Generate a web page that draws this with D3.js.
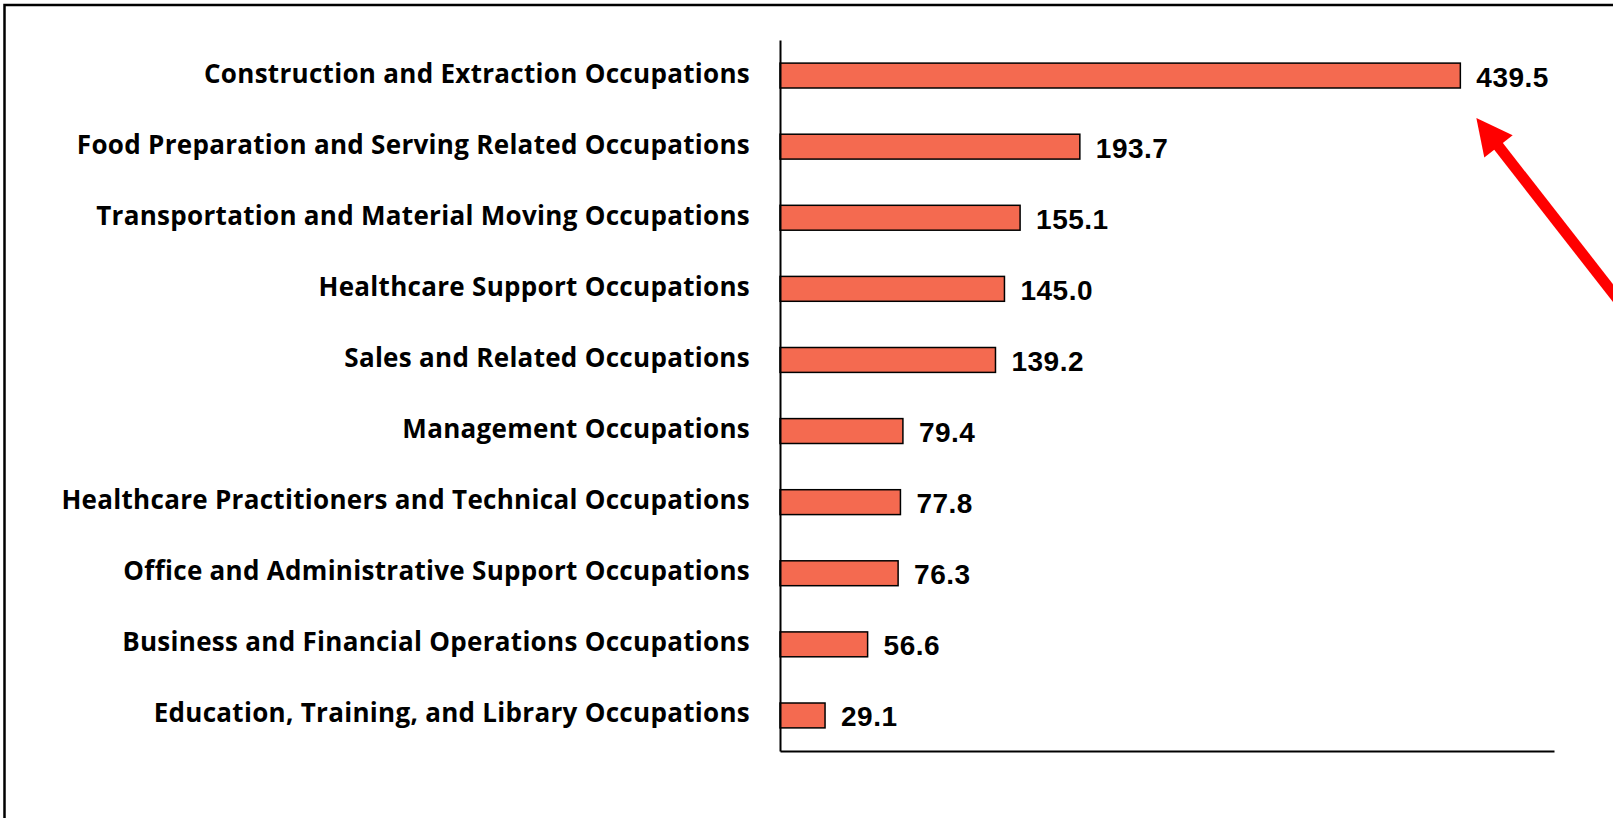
<!DOCTYPE html>
<html>
<head>
<meta charset="utf-8">
<script src="https://cdn.jsdelivr.net/npm/d3@7"></script>
<style>
  body { margin: 0; background: #fff; }
  svg { display: block; }
</style>
</head>
<body>
<div id="chart"></div>
<script>
var categories = [
  "Construction and Extraction Occupations",
  "Food Preparation and Serving Related Occupations",
  "Transportation and Material Moving Occupations",
  "Healthcare Support Occupations",
  "Sales and Related Occupations",
  "Management Occupations",
  "Healthcare Practitioners and Technical Occupations",
  "Office and Administrative Support Occupations",
  "Business and Financial Operations Occupations",
  "Education, Training, and Library Occupations"
]
var values = [439.5, 193.7, 155.1, 145.0, 139.2, 79.4, 77.8, 76.3, 56.6, 29.1]
var xMax = 500

var W = 1613, H = 818
var margin = {top: 40, left: 780, right: 59, bottom: 67}

var svg = d3.select("#chart").append("svg")
  .attr("width", W)
  .attr("height", H)

// frame (cropped, only top and left edges show)
svg.append("path")
  .attr("d", "M4.5," + (H + 5) + "V5H" + (W + 5))
  .attr("fill", "none")
  .attr("stroke", "#000")
  .attr("stroke-width", 2.5)

var x = d3.scaleLinear()
  .domain([0, xMax])
  .range([margin.left, W - margin.right])

var y = d3.scaleBand()
  .domain(categories)
  .range([margin.top, H - margin.bottom])
  .paddingInner(0.65)
  .paddingOuter(0.325)

var data = categories.map(function(c, i){ return {cat: c, val: values[i]} })

svg.selectAll("rect.bar")
  .data(data)
  .enter().append("rect")
  .attr("class", "bar")
  .attr("x", x(0))
  .attr("y", function(d){ return y(d.cat) })
  .attr("width", function(d){ return x(d.val) - x(0) })
  .attr("height", y.bandwidth())
  .attr("fill", "#F46A50")
  .attr("stroke", "#000")
  .attr("stroke-width", 1.5)

// category labels
svg.selectAll("text.cat")
  .data(data)
  .enter().append("text")
  .attr("class", "cat")
  .attr("x", x(0) - 30)
  .attr("y", function(d){ return y(d.cat) + y.bandwidth() / 2 + 7 })
  .attr("text-anchor", "end")
  .style("font-family", "'Open Sans', 'Noto Sans', sans-serif")
  .style("font-weight", "bold")
  .style("font-size", "26px")
  .style("letter-spacing", "0.3px")
  .attr("fill", "#000")
  .text(function(d){ return d.cat })

// value labels
svg.selectAll("text.val")
  .data(data)
  .enter().append("text")
  .attr("class", "val")
  .attr("x", function(d){ return x(d.val) + 16 })
  .attr("y", function(d){ return y(d.cat) + y.bandwidth() / 2 + 11 })
  .style("font-family", "'Liberation Sans', Arial, sans-serif")
  .style("font-weight", "bold")
  .style("font-size", "28px")
  .style("letter-spacing", "0.5px")
  .attr("fill", "#000")
  .text(function(d){ return d.val.toFixed(1) })

// axes lines, no ticks
svg.append("g")
  .attr("transform", "translate(" + x(0) + ",0)")
  .call(d3.axisLeft(y).tickSize(0).tickFormat(""))
svg.append("g")
  .attr("transform", "translate(0," + (H - margin.bottom) + ")")
  .call(d3.axisBottom(x).tickSize(0).tickFormat(""))
svg.selectAll(".domain").attr("stroke", "#000").attr("stroke-width", 2)

// red arrow pointing at the top bar
var tipX = x(values[0]) + 16, tipY = y(categories[0]) + y.bandwidth() + 30
var ux = 0.615, uy = 0.788
var headLen = 36, headHalf = 18, shaftLen = 400
svg.append("line")
  .attr("x1", tipX + ux * (headLen - 4))
  .attr("y1", tipY + uy * (headLen - 4))
  .attr("x2", tipX + ux * shaftLen)
  .attr("y2", tipY + uy * shaftLen)
  .attr("stroke", "#FF0000")
  .attr("stroke-width", 11)
svg.append("path")
  .attr("d", "M" + tipX + "," + tipY +
    "L" + (tipX + ux * headLen - uy * headHalf) + "," + (tipY + uy * headLen + ux * headHalf) +
    "L" + (tipX + ux * headLen + uy * headHalf) + "," + (tipY + uy * headLen - ux * headHalf) + "Z")
  .attr("fill", "#FF0000")
</script>
</body>
</html>
